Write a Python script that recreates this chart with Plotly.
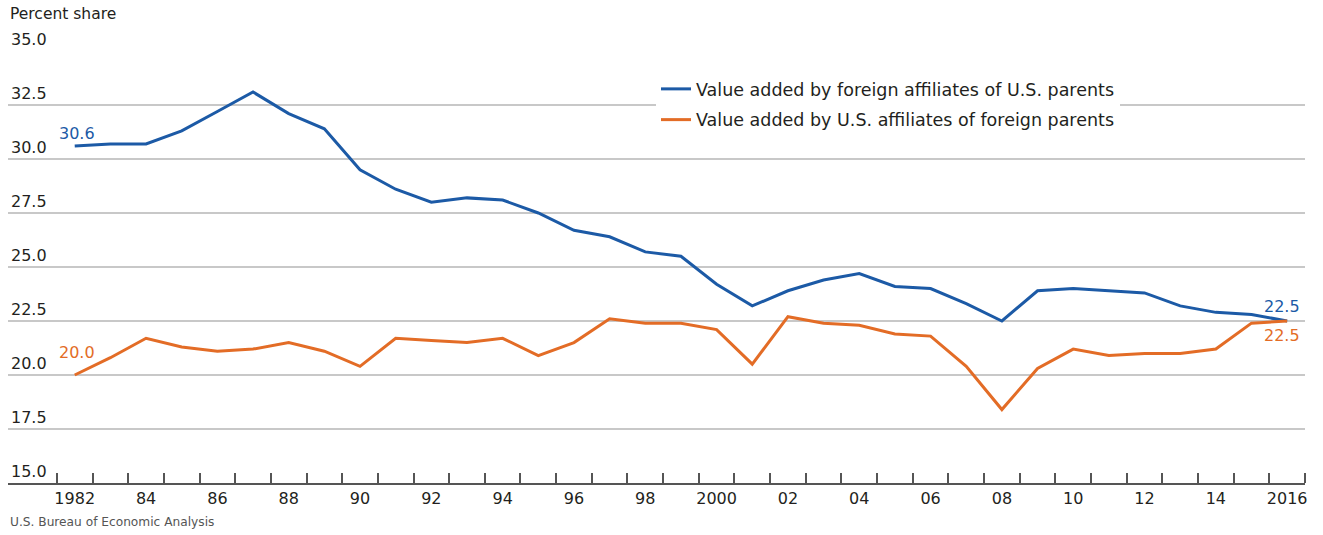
import plotly.graph_objects as go

years = list(range(1982, 2017))
foreign_affiliates_us_parents = [
    30.6, 30.7, 30.7, 31.3, 32.2, 33.1, 32.1, 31.4, 29.5, 28.6,
    28.0, 28.2, 28.1, 27.5, 26.7, 26.4, 25.7, 25.5, 24.2, 23.2,
    23.9, 24.4, 24.7, 24.1, 24.0, 23.3, 22.5, 23.9, 24.0, 23.9,
    23.8, 23.2, 22.9, 22.8, 22.5,
]
us_affiliates_foreign_parents = [
    20.0, 20.8, 21.7, 21.3, 21.1, 21.2, 21.5, 21.1, 20.4, 21.7,
    21.6, 21.5, 21.7, 20.9, 21.5, 22.6, 22.4, 22.4, 22.1, 20.5,
    22.7, 22.4, 22.3, 21.9, 21.8, 20.4, 18.4, 20.3, 21.2, 20.9,
    21.0, 21.0, 21.2, 22.4, 22.5,
]
series_names = [
    "Value added by foreign affiliates of U.S. parents",
    "Value added by U.S. affiliates of foreign parents",
]
x_tick_vals = list(range(1982, 2017, 2))
x_tick_text = ["1982", "84", "86", "88", "90", "92", "94", "96", "98", "2000",
               "02", "04", "06", "08", "10", "12", "14", "2016"]
y_tick_vals = [15.0, 17.5, 20.0, 22.5, 25.0, 27.5, 30.0, 32.5, 35.0]

BLUE = "#1c5aa6"
ORANGE = "#e36c26"
FONT = "DejaVu Sans"
TXT = "#231f20"

W, H = 1323, 535
ML, MR, MT, MB = 8, 18, 51, 52
plot_w = W - ML - MR
plot_h = H - MT - MB
px_per_year = 35.66
x_end = years[-1] + 0.5
x_start = x_end - plot_w / px_per_year

fig = go.Figure()
fig.add_trace(go.Scatter(x=years, y=foreign_affiliates_us_parents, mode="lines",
                         name=series_names[0], legendgroup="a",
                         line=dict(color=BLUE, width=3)))
fig.add_trace(go.Scatter(x=years, y=us_affiliates_foreign_parents, mode="lines",
                         name=series_names[1], legendgroup="b",
                         line=dict(color=ORANGE, width=3)))

annotations = []
lab_x = (49 - ML) / plot_w
for v in y_tick_vals:
    annotations.append(dict(x=lab_x, xref="paper", y=v, yref="y", text=f"{v:.1f}",
                            showarrow=False, xanchor="right", yanchor="bottom",
                            yshift=0, font=dict(size=16, color=TXT, family=FONT)))
annotations.append(dict(x=years[0], y=foreign_affiliates_us_parents[0],
                        text=f"{foreign_affiliates_us_parents[0]:.1f}", showarrow=False,
                        xanchor="center", yanchor="bottom", yshift=1, xshift=2,
                        font=dict(size=16, color=BLUE, family=FONT)))
annotations.append(dict(x=years[0], y=us_affiliates_foreign_parents[0],
                        text=f"{us_affiliates_foreign_parents[0]:.1f}", showarrow=False,
                        xanchor="center", yanchor="bottom", yshift=11, xshift=2,
                        font=dict(size=16, color=ORANGE, family=FONT)))
annotations.append(dict(x=years[-1], y=foreign_affiliates_us_parents[-1],
                        text=f"{foreign_affiliates_us_parents[-1]:.1f}", showarrow=False,
                        xanchor="center", yanchor="bottom", yshift=3, xshift=-5,
                        font=dict(size=16, color=BLUE, family=FONT)))
annotations.append(dict(x=years[-1], y=us_affiliates_foreign_parents[-1],
                        text=f"{us_affiliates_foreign_parents[-1]:.1f}", showarrow=False,
                        xanchor="center", yanchor="top", yshift=-3, xshift=-5,
                        font=dict(size=16, color=ORANGE, family=FONT)))
annotations.append(dict(x=0, xref="paper", y=1 + (MT - 14) / plot_h, yref="paper",
                        text="Percent share", showarrow=False, xanchor="left",
                        yanchor="middle", font=dict(size=15.5, color=TXT, family=FONT)))
annotations.append(dict(x=0, xref="paper", y=-(522 - (H - MB)) / plot_h, yref="paper",
                        text="U.S. Bureau of Economic Analysis", showarrow=False,
                        xanchor="left", yanchor="middle",
                        font=dict(size=12.2, color="#555", family=FONT)))

fig.update_layout(
    width=W, height=H,
    margin=dict(l=ML, r=MR, t=MT, b=MB),
    paper_bgcolor="white", plot_bgcolor="white",
    font=dict(family=FONT, color=TXT, size=16),
    showlegend=True,
    legend=dict(x=(656 - ML) / plot_w, y=(H - MB - 71) / plot_h,
                xanchor="left", yanchor="top", bgcolor="white",
                font=dict(size=17.5, color=TXT, family=FONT),
                traceorder="grouped", tracegroupgap=5, itemwidth=30),
    annotations=annotations,
    xaxis=dict(range=[x_start, x_end], tickvals=x_tick_vals, ticktext=x_tick_text,
               ticks="", showgrid=False, showline=True, linecolor="#555", linewidth=1.5,
               tickfont=dict(size=16, color=TXT, family=FONT), zeroline=False,
               minor=dict(tickvals=[y + 0.5 for y in range(1981, 2017)], ticks="inside",
                          ticklen=10, tickwidth=1.5, tickcolor="#555", showgrid=False)),
    yaxis=dict(range=[15, 35], tickvals=y_tick_vals, showticklabels=False, ticks="",
               showgrid=True, gridcolor="#c8c8c8", gridwidth=1.5, zeroline=False,
               showline=False),
)

fig.write_html("out.html", config={"displayModeBar": False},
               post_script="document.body.style.margin='0px';")
